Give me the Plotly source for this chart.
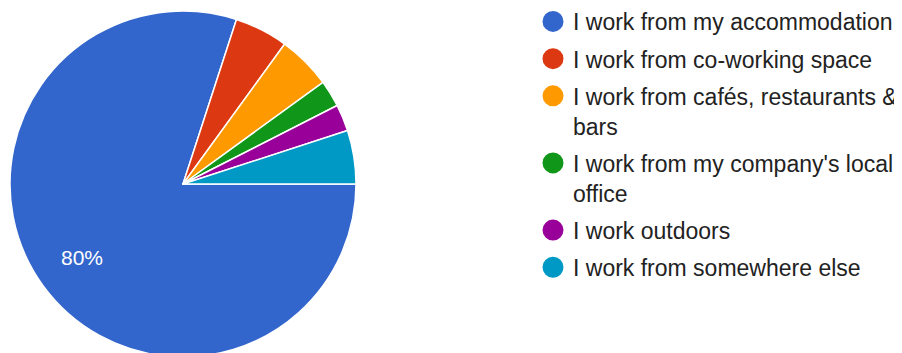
import math
import plotly.graph_objects as go

labels = [
    "I work from my accommodation",
    "I work from co-working space",
    "I work from cafés, restaurants &<br>bars",
    "I work from my company's local<br>office",
    "I work outdoors",
    "I work from somewhere else",
]
values = [32, 2, 2, 1, 1, 2]
colors = ["#3366cc", "#dc3912", "#ff9900", "#109618", "#990099", "#0099c6"]

W, H = 902, 353
# pie placement (figure pixels)
cx, cy, r = 175, 176, 173
dom_x = [(cx - r) / W, (cx + r) / W]
dom_y = [(H - (cy + r)) / H, (H - (cy - r)) / H]

fig = go.Figure()
fig.add_trace(go.Pie(
    labels=labels,
    values=values,
    sort=False,
    direction="clockwise",
    rotation=90,
    marker=dict(colors=colors, line=dict(color="white", width=1.5)),
    textinfo="none",
    showlegend=False,
    domain=dict(x=dom_x, y=dom_y),
    hoverinfo="label+percent",
))

# percentage label of the largest slice, placed along its mid angle
total = sum(values)
share = values[0] / total
mid = math.radians(90 + 360 * share / 2)
lx = cx + 0.72 * r * math.sin(mid)
ly = cy - 0.72 * r * math.cos(mid)
fig.add_annotation(
    x=lx / W, y=1 - ly / H, xref="paper", yref="paper",
    xanchor="center", yanchor="middle",
    text=f"{share:.0%}", showarrow=False,
    font=dict(color="white", size=21, family="Liberation Sans, Arial"),
)

for i, (lab, col) in enumerate(zip(labels, colors)):
    fig.add_trace(go.Scatter(
        x=[None], y=[None], mode="markers", name=lab,
        legendgroup=f"g{i}",
        marker=dict(color=col, size=16, symbol="circle", line=dict(color=col, width=5)),
        showlegend=True,
    ))

fig.update_layout(
    width=W, height=H,
    margin=dict(l=0, r=0, t=0, b=0, autoexpand=False),
    paper_bgcolor="white", plot_bgcolor="white",
    xaxis=dict(visible=False), yaxis=dict(visible=False),
    legend=dict(
        x=525 / W, y=1 + 8 / H, xref="paper", yref="paper",
        xanchor="left", yanchor="top",
        font=dict(family="Liberation Sans, Arial", size=23, color="#222222"),
        valign="top", tracegroupgap=4.3, bgcolor="rgba(0,0,0,0)",
        maxheight=1,
    ),
)

fig.write_html("out.html")
